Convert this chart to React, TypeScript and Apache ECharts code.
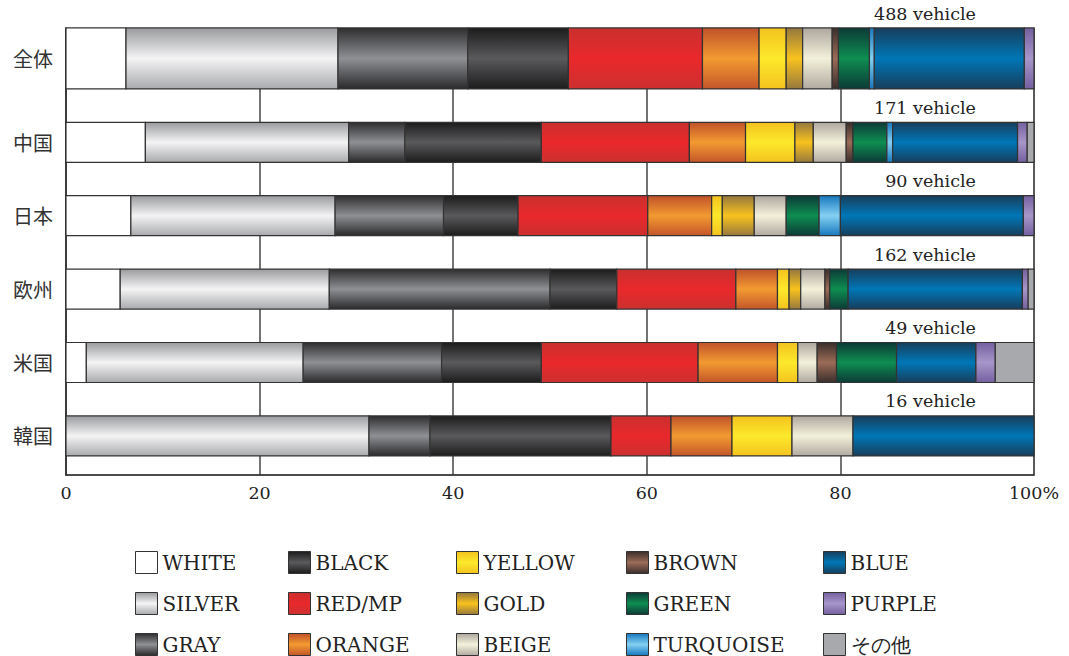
import { useEffect, useRef } from 'react';
import * as echarts from 'echarts';

// Regions, top to bottom, and the number of vehicles surveyed in each
const regions = ['全体', '中国', '日本', '欧州', '米国', '韓国'];
const vehicleCounts = [488, 171, 90, 162, 49, 16];

// Share (%) of each body colour per region, in the order of `regions`
const white = [6.2, 8.2, 6.7, 5.6, 2.1, 0];
const silver = [21.9, 21.0, 21.1, 21.6, 22.4, 31.3];
const gray = [13.4, 5.8, 11.2, 22.8, 14.3, 6.3];
const black = [10.4, 14.1, 7.7, 6.9, 10.3, 18.7];
const redMp = [13.85, 15.3, 13.4, 12.3, 16.2, 6.2];
const orange = [5.85, 5.8, 6.6, 4.3, 8.2, 6.3];
const yellow = [2.8, 5.1, 1.1, 1.2, 2.1, 6.2];
const gold = [1.7, 1.9, 3.3, 1.2, 0, 0];
const beige = [3.05, 3.4, 3.3, 2.5, 2.0, 6.3];
const brown = [0.65, 0.7, 0, 0.5, 2.0, 0];
const green = [3.2, 3.5, 3.4, 1.9, 6.2, 0];
const turquoise = [0.5, 0.6, 2.2, 0, 0, 0];
const blue = [15.5, 12.9, 18.9, 18.0, 8.2, 18.7];
const purple = [1.0, 1.0, 1.1, 0.6, 2.0, 0];
const other = [0, 0.7, 0, 0.6, 4.0, 0];

const colorNames = [
  'WHITE', 'SILVER', 'GRAY',
  'BLACK', 'RED/MP', 'ORANGE',
  'YELLOW', 'GOLD', 'BEIGE',
  'BROWN', 'GREEN', 'TURQUOISE',
  'BLUE', 'PURPLE', 'その他',
];
const shares = [
  white, silver, gray, black, redMp, orange, yellow, gold,
  beige, brown, green, turquoise, blue, purple, other,
];

// Share axis ticks
const xTicks = [0, 20, 40, 60, 80, 100];

// ---- styling -------------------------------------------------------------

// [top, middle, bottom] tones of the metallic vertical shading of each colour
const shades: [string, string, string][] = [
  ['#ffffff', '#ffffff', '#ffffff'],
  ['#9a9b9e', '#f4f4f5', '#a9aaad'],
  ['#2e2e30', '#8f9094', '#2a2a2c'],
  ['#1c1c1d', '#5a5a5c', '#1c1c1d'],
  ['#c9302e', '#ea282c', '#cc302f'],
  ['#c0522a', '#f39a31', '#c4562a'],
  ['#f3c21e', '#fce92b', '#f4c31f'],
  ['#95783f', '#f8c21d', '#98793e'],
  ['#aea79f', '#f3f1da', '#b1aaa1'],
  ['#3a2e2b', '#9b6c57', '#3a2e2b'],
  ['#0c3a37', '#0e8e51', '#0c3a37'],
  ['#1778be', '#84d0f2', '#1778be'],
  ['#173e5c', '#0077b7', '#173e5c'],
  ['#7560a0', '#a796c9', '#7560a0'],
  ['#a8a9ac', '#a8a9ac', '#a8a9ac'],
];

const fill = (i: number) =>
  new echarts.graphic.LinearGradient(0, 0, 0, 1, [
    { offset: 0, color: shades[i][0] },
    { offset: 0.5, color: shades[i][1] },
    { offset: 1, color: shades[i][2] },
  ]);

const SERIF = '"DejaVu Serif", "Liberation Serif", serif';
const CJK = '"Noto Sans CJK JP", "Noto Sans CJK SC", sans-serif';

// Row layout in axis units (one unit = one row pitch); the overall row is taller
const BOTTOM_PAD = 0.26;
const BAR_H = 0.545;
const TOP_BAR_H = 0.83;
const Y_MAX = BOTTOM_PAD + (regions.length - 1) + TOP_BAR_H;
const rowBottom = (i: number) => BOTTOM_PAD + (regions.length - 1 - i);
const rowTop = (i: number) => rowBottom(i) + (i === 0 ? TOP_BAR_H : BAR_H);
const rowCenter = (i: number) => (rowBottom(i) + rowTop(i)) / 2;

const COUNT_LABEL_X = 94; // right edge of the "n vehicle" captions, in %

// left edge of each legend column's swatches
const legendLefts = [135, 288, 456, 626, 823];

export default function App() {
  const ref = useRef<HTMLDivElement>(null);

  useEffect(() => {
    if (!ref.current) return;
    const chart = echarts.init(ref.current, null, { renderer: 'svg' });

    // cumulative starts of each colour segment per region
    const starts = regions.map(() => 0);
    const segmentSeries = colorNames.map((name, c) => {
      const data = regions.map((_, r) => {
        const s = starts[r];
        const e = s + shares[c][r];
        starts[r] = e;
        return [s, e, rowBottom(r), rowTop(r)];
      });
      return {
        type: 'custom',
        name,
        itemStyle: { color: fill(c), borderColor: '#333', borderWidth: 1 },
        encode: { x: [0, 1], y: [2, 3] },
        data,
        renderItem: (_p: any, api: any) => {
          const s = api.value(0);
          const e = api.value(1);
          if (e - s <= 0) return null;
          const a = api.coord([s, api.value(3)]);
          const b = api.coord([e, api.value(2)]);
          return {
            type: 'rect',
            shape: { x: a[0], y: a[1], width: b[0] - a[0], height: b[1] - a[1] },
            style: { fill: fill(c), stroke: '#333', lineWidth: 1.2 },
          };
        },
      };
    });

    const countSeries = {
      type: 'custom',
      name: 'count',
      encode: { x: 0, y: 1 },
      data: regions.map((_, r) => [COUNT_LABEL_X, rowTop(r), vehicleCounts[r]]),
      renderItem: (_p: any, api: any) => {
        const p = api.coord([api.value(0), api.value(1)]);
        return {
          type: 'text',
          x: p[0],
          y: p[1] - 14.5,
          style: {
            text: `${api.value(2)} vehicle`,
            align: 'right',
            verticalAlign: 'middle',
            textAlign: 'right',
            textVerticalAlign: 'middle',
            fontFamily: SERIF,
            fontSize: 17.5,
            fill: '#222',
          },
        };
      },
    };

    const centers = regions.map((_, i) => rowCenter(i));

    chart.setOption({
      animation: false,
      backgroundColor: '#fff',
      grid: {
        left: 66,
        right: 35,
        top: 28,
        bottom: 181,
        show: true,
        borderColor: '#777',
        borderWidth: 1.5,
        backgroundColor: 'transparent',
      },
      xAxis: {
        type: 'value',
        min: xTicks[0],
        max: xTicks[xTicks.length - 1],
        interval: xTicks[1] - xTicks[0],
        axisLine: { show: true, lineStyle: { color: '#333', width: 1.5 } },
        axisTick: { show: false },
        splitLine: { show: true, lineStyle: { color: '#444', width: 1.5 } },
        axisLabel: {
          margin: 9,
          fontFamily: SERIF,
          fontSize: 17.5,
          color: '#222',
          formatter: (v: number) => (v === 100 ? '100%' : String(v)),
        },
      },
      yAxis: {
        type: 'value',
        min: 0,
        max: Y_MAX,
        axisLine: { show: true, lineStyle: { color: '#333', width: 1.5 } },
        axisTick: { show: false },
        splitLine: { show: false },
        axisLabel: {
          customValues: centers,
          margin: 13,
          fontFamily: CJK,
          fontSize: 20,
          color: '#333',
          formatter: (v: number) => {
            let best = 0;
            centers.forEach((c, i) => {
              if (Math.abs(c - v) < Math.abs(centers[best] - v)) best = i;
            });
            return regions[best];
          },
        },
      },
      legend: legendLefts.map((left, k) => ({
        orient: 'vertical',
        left,
        top: 551,
        padding: 0,
        height: 140,
        itemWidth: 22,
        itemHeight: 22,
        itemGap: 18,
        icon: 'rect',
        selectedMode: false,
        data: colorNames.slice(k * 3, k * 3 + 3),
        itemStyle: { borderColor: '#333', borderWidth: 1 },
        textStyle: {
          fontFamily: SERIF,
          fontSize: 20,
          lineHeight: 22,
          color: '#222',
        },
      })),
      series: [...segmentSeries, countSeries],
    });

    return () => chart.dispose();
  }, []);

  return (
    <div
      ref={ref}
      style={{ position: 'fixed', left: 0, top: 0, width: 1069, height: 656, background: '#fff' }}
    />
  );
}
